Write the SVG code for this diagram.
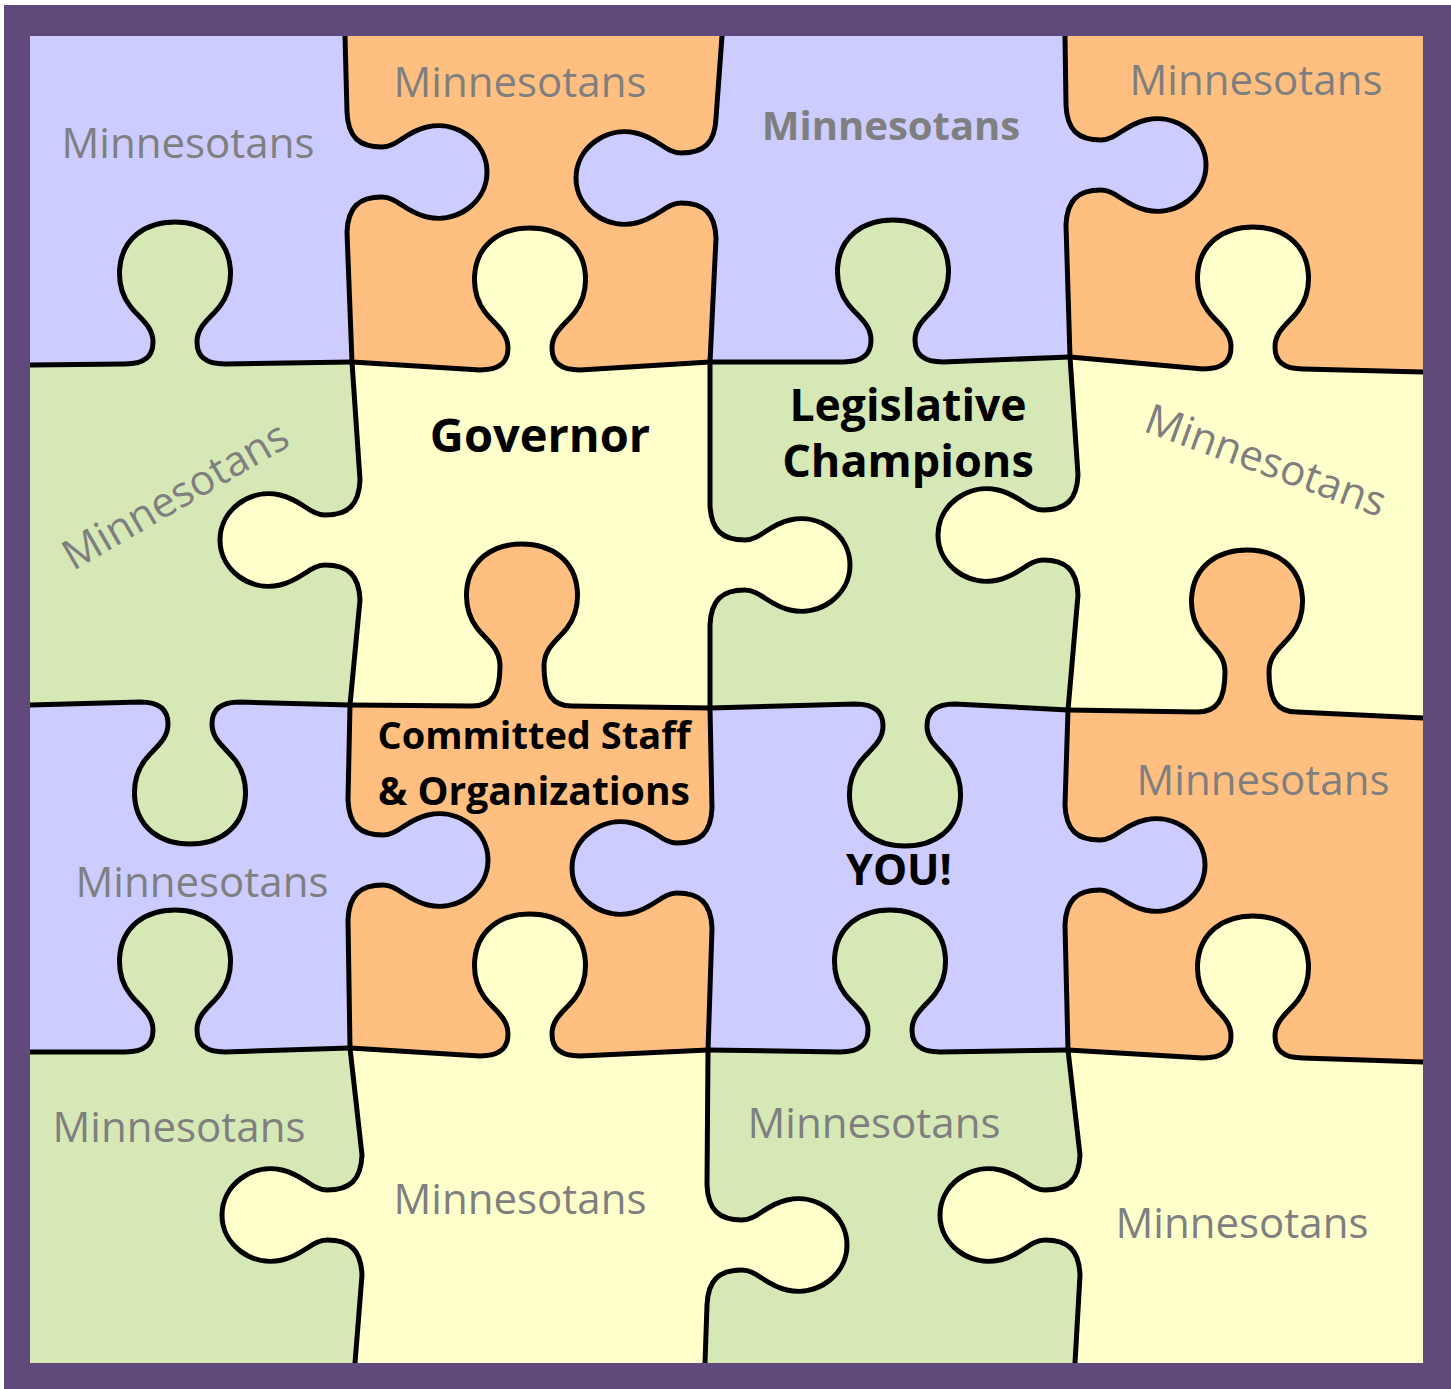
<svg xmlns="http://www.w3.org/2000/svg" width="1451" height="1389" viewBox="0 0 1451 1389">
  <style>
    .piece path { fill-rule: evenodd; }
    .lav { fill: #CCCCFF; }
    .org { fill: #FFBF80; }
    .grn { fill: #D7E8B7; }
    .yel { fill: #FFFFCC; }
    .seam { fill: none; stroke: #000; stroke-width: 5; stroke-linecap: round; stroke-linejoin: round; }
    .m { font-family: "Open Sans", "Liberation Sans", sans-serif; font-size: 42px; fill: #7F7F7F; text-anchor: middle; }
    .mb { font-family: "Open Sans", "Liberation Sans", sans-serif; font-size: 40px; font-weight: bold; fill: #7F7F7F; text-anchor: middle; }
    .b { font-family: "Open Sans", "Liberation Sans", sans-serif; font-weight: bold; fill: #000; text-anchor: middle; }
  </style>
  <rect width="1451" height="1389" fill="#FFFFFF"/>

  <!-- puzzle pieces: cell outline + own tabs, neighbour tabs cut out (evenodd) -->
  <g id="pieces">
    <g id="piece-r0c0" class="piece">
      <path class="lav" d="M30,36 L345,36 L347,112 L347,232 L352,362 L225,364 L125,364 L30,365 Z
        M347,112 C348,137 359,147 382,147 C397,147 405,132 427,127 C457,120 487,142 487,172 C487,202 457,224 427,217 C405,212 397,197 382,197 C359,197 348,207 347,232 Z
        M125,364 C145,364 153,356 153,342 C153,326 140,319 130,306 C115,286 115,252 137,234 C157,218 193,218 213,234 C235,252 235,286 220,306 C210,319 197,326 197,342 C197,356 205,364 225,364 Z"/>
      <text class="m" x="188" y="158">Minnesotans</text>
    </g>
    <g id="piece-r0c1" class="piece">
      <path class="org" d="M345,36 L722,36 L716,118 L716,238 L710,362 L580,370 L480,370 L352,362 L347,232 L347,112 Z
        M347,112 C348,137 359,147 382,147 C397,147 405,132 427,127 C457,120 487,142 487,172 C487,202 457,224 427,217 C405,212 397,197 382,197 C359,197 348,207 347,232 Z
        M716,118 C715,143 704,153 681,153 C666,153 658,138 636,133 C606,126 576,148 576,178 C576,208 606,230 636,223 C658,218 666,203 681,203 C704,203 715,213 716,238 Z
        M480,370 C500,370 508,362 508,348 C508,332 495,325 485,312 C470,292 470,258 492,240 C512,224 548,224 568,240 C590,258 590,292 575,312 C565,325 552,332 552,348 C552,362 560,370 580,370 Z"/>
      <text class="m" x="520" y="97">Minnesotans</text>
    </g>
    <g id="piece-r0c2" class="piece">
      <path class="lav" d="M722,36 L1065,36 L1066,105 L1066,225 L1070,357 L943,362 L843,362 L710,362 L716,238 L716,118 Z
        M716,118 C715,143 704,153 681,153 C666,153 658,138 636,133 C606,126 576,148 576,178 C576,208 606,230 636,223 C658,218 666,203 681,203 C704,203 715,213 716,238 Z
        M1066,105 C1067,130 1078,140 1101,140 C1116,140 1124,125 1146,120 C1176,113 1206,135 1206,165 C1206,195 1176,217 1146,210 C1124,205 1116,190 1101,190 C1078,190 1067,200 1066,225 Z
        M843,362 C863,362 871,354 871,340 C871,324 858,317 848,304 C833,284 833,250 855,232 C875,216 911,216 931,232 C953,250 953,284 938,304 C928,317 915,324 915,340 C915,354 923,362 943,362 Z"/>
      <text class="mb" x="891" y="140">Minnesotans</text>
    </g>
    <g id="piece-r0c3" class="piece">
      <path class="org" d="M1065,36 L1423,36 L1423,372 L1303,369 L1203,369 L1070,357 L1066,225 L1066,105 Z
        M1066,105 C1067,130 1078,140 1101,140 C1116,140 1124,125 1146,120 C1176,113 1206,135 1206,165 C1206,195 1176,217 1146,210 C1124,205 1116,190 1101,190 C1078,190 1067,200 1066,225 Z
        M1203,369 C1223,369 1231,361 1231,347 C1231,331 1218,324 1208,311 C1193,291 1193,257 1215,239 C1235,223 1271,223 1291,239 C1313,257 1313,291 1298,311 C1288,324 1275,331 1275,347 C1275,361 1283,369 1303,369 Z"/>
      <text class="m" x="1256" y="95">Minnesotans</text>
    </g>

    <g id="piece-r1c0" class="piece">
      <path class="grn" d="M30,365 L125,364 L225,364 L352,362 L360,480 L360,600 L350,705 L240,702 L140,702 L30,705 Z
        M125,364 C145,364 153,356 153,342 C153,326 140,319 130,306 C115,286 115,252 137,234 C157,218 193,218 213,234 C235,252 235,286 220,306 C210,319 197,326 197,342 C197,356 205,364 225,364 Z
        M140,702 C160,702 168,710 168,724 C168,740 155,747 145,760 C130,780 130,814 152,832 C172,848 208,848 228,832 C250,814 250,780 235,760 C225,747 212,740 212,724 C212,710 220,702 240,702 Z
        M360,480 C359,505 348,515 325,515 C310,515 302,500 280,495 C250,488 220,510 220,540 C220,570 250,592 280,585 C302,580 310,565 325,565 C348,565 359,575 360,600 Z"/>
      <text class="m" x="175" y="510" transform="rotate(-30 175 495)">Minnesotans</text>
    </g>
    <g id="piece-r1c1" class="piece">
      <path class="yel" d="M352,362 L480,370 L580,370 L710,362 L710,505 L710,625 L710,708 L572,706 L472,706 L350,705 L360,600 L360,480 Z
        M480,370 C500,370 508,362 508,348 C508,332 495,325 485,312 C470,292 470,258 492,240 C512,224 548,224 568,240 C590,258 590,292 575,312 C565,325 552,332 552,348 C552,362 560,370 580,370 Z
        M360,480 C359,505 348,515 325,515 C310,515 302,500 280,495 C250,488 220,510 220,540 C220,570 250,592 280,585 C302,580 310,565 325,565 C348,565 359,575 360,600 Z
        M710,505 C711,530 722,540 745,540 C760,540 768,525 790,520 C820,513 850,535 850,565 C850,595 820,617 790,610 C768,605 760,590 745,590 C722,590 711,600 710,625 Z
        M472,706 C492,706 500,694 500,666 C500,648 487,641 477,628 C462,608 462,574 484,556 C504,540 540,540 560,556 C582,574 582,608 567,628 C557,641 544,648 544,666 C544,694 552,706 572,706 Z"/>
      <text class="b" x="540" y="452" font-size="47">Governor</text>
    </g>
    <g id="piece-r1c2" class="piece">
      <path class="grn" d="M710,362 L843,362 L943,362 L1070,357 L1078,475 L1078,595 L1068,710 L955,704 L855,704 L710,708 L710,625 L710,505 Z
        M843,362 C863,362 871,354 871,340 C871,324 858,317 848,304 C833,284 833,250 855,232 C875,216 911,216 931,232 C953,250 953,284 938,304 C928,317 915,324 915,340 C915,354 923,362 943,362 Z
        M855,704 C875,704 883,712 883,726 C883,742 870,749 860,762 C845,782 845,816 867,834 C887,850 923,850 943,834 C965,816 965,782 950,762 C940,749 927,742 927,726 C927,712 935,704 955,704 Z
        M710,505 C711,530 722,540 745,540 C760,540 768,525 790,520 C820,513 850,535 850,565 C850,595 820,617 790,610 C768,605 760,590 745,590 C722,590 711,600 710,625 Z
        M1078,475 C1077,500 1066,510 1043,510 C1028,510 1020,495 998,490 C968,483 938,505 938,535 C938,565 968,587 998,580 C1020,575 1028,560 1043,560 C1066,560 1077,570 1078,595 Z"/>
      <text class="b" x="908" y="421" font-size="44.5">Legislative</text>
      <text class="b" x="908" y="477" font-size="45">Champions</text>
    </g>
    <g id="piece-r1c3" class="piece">
      <path class="yel" d="M1070,357 L1203,369 L1303,369 L1423,372 L1423,718 L1297,712 L1197,712 L1068,710 L1078,595 L1078,475 Z
        M1203,369 C1223,369 1231,361 1231,347 C1231,331 1218,324 1208,311 C1193,291 1193,257 1215,239 C1235,223 1271,223 1291,239 C1313,257 1313,291 1298,311 C1288,324 1275,331 1275,347 C1275,361 1283,369 1303,369 Z
        M1078,475 C1077,500 1066,510 1043,510 C1028,510 1020,495 998,490 C968,483 938,505 938,535 C938,565 968,587 998,580 C1020,575 1028,560 1043,560 C1066,560 1077,570 1078,595 Z
        M1197,712 C1217,712 1225,700 1225,672 C1225,654 1212,647 1202,634 C1187,614 1187,580 1209,562 C1229,546 1265,546 1285,562 C1307,580 1307,614 1292,634 C1282,647 1269,654 1269,672 C1269,700 1277,712 1297,712 Z"/>
      <text class="m" x="1266" y="475" transform="rotate(20 1266 460)">Minnesotans</text>
    </g>

    <g id="piece-r2c0" class="piece">
      <path class="lav" d="M30,705 L140,702 L240,702 L350,705 L348,800 L348,920 L350,1048 L225,1052 L125,1052 L30,1052 Z
        M348,800 C349,825 360,835 383,835 C398,835 406,820 428,815 C458,808 488,830 488,860 C488,890 458,912 428,905 C406,900 398,885 383,885 C360,885 349,895 348,920 Z
        M140,702 C160,702 168,710 168,724 C168,740 155,747 145,760 C130,780 130,814 152,832 C172,848 208,848 228,832 C250,814 250,780 235,760 C225,747 212,740 212,724 C212,710 220,702 240,702 Z
        M125,1052 C145,1052 153,1044 153,1030 C153,1014 140,1007 130,994 C115,974 115,940 137,922 C157,906 193,906 213,922 C235,940 235,974 220,994 C210,1007 197,1014 197,1030 C197,1044 205,1052 225,1052 Z"/>
      <text class="m" x="202" y="897">Minnesotans</text>
    </g>
    <g id="piece-r2c1" class="piece">
      <path class="org" d="M350,705 L472,706 L572,706 L710,708 L712,808 L712,928 L708,1050 L580,1056 L480,1056 L350,1048 L348,920 L348,800 Z
        M472,706 C492,706 500,694 500,666 C500,648 487,641 477,628 C462,608 462,574 484,556 C504,540 540,540 560,556 C582,574 582,608 567,628 C557,641 544,648 544,666 C544,694 552,706 572,706 Z
        M348,800 C349,825 360,835 383,835 C398,835 406,820 428,815 C458,808 488,830 488,860 C488,890 458,912 428,905 C406,900 398,885 383,885 C360,885 349,895 348,920 Z
        M712,808 C711,833 700,843 677,843 C662,843 654,828 632,823 C602,816 572,838 572,868 C572,898 602,920 632,913 C654,908 662,893 677,893 C700,893 711,903 712,928 Z
        M480,1056 C500,1056 508,1048 508,1034 C508,1018 495,1011 485,998 C470,978 470,944 492,926 C512,910 548,910 568,926 C590,944 590,978 575,998 C565,1011 552,1018 552,1034 C552,1048 560,1056 580,1056 Z"/>
      <text class="b" x="534" y="749" font-size="38">Committed Staff</text>
      <text class="b" x="534" y="805" font-size="39">&amp; Organizations</text>
    </g>
    <g id="piece-r2c2" class="piece">
      <path class="lav" d="M710,708 L855,704 L955,704 L1068,710 L1065,805 L1065,925 L1068,1050 L940,1052 L840,1052 L708,1050 L712,928 L712,808 Z
        M712,808 C711,833 700,843 677,843 C662,843 654,828 632,823 C602,816 572,838 572,868 C572,898 602,920 632,913 C654,908 662,893 677,893 C700,893 711,903 712,928 Z
        M1065,805 C1066,830 1077,840 1100,840 C1115,840 1123,825 1145,820 C1175,813 1205,835 1205,865 C1205,895 1175,917 1145,910 C1123,905 1115,890 1100,890 C1077,890 1066,900 1065,925 Z
        M855,704 C875,704 883,712 883,726 C883,742 870,749 860,762 C845,782 845,816 867,834 C887,850 923,850 943,834 C965,816 965,782 950,762 C940,749 927,742 927,726 C927,712 935,704 955,704 Z
        M840,1052 C860,1052 868,1044 868,1030 C868,1014 855,1007 845,994 C830,974 830,940 852,922 C872,906 908,906 928,922 C950,940 950,974 935,994 C925,1007 912,1014 912,1030 C912,1044 920,1052 940,1052 Z"/>
      <text class="b" x="899" y="885" font-size="43">YOU!</text>
    </g>
    <g id="piece-r2c3" class="piece">
      <path class="org" d="M1068,710 L1197,712 L1297,712 L1423,718 L1423,1062 L1303,1058 L1203,1058 L1068,1050 L1065,925 L1065,805 Z
        M1197,712 C1217,712 1225,700 1225,672 C1225,654 1212,647 1202,634 C1187,614 1187,580 1209,562 C1229,546 1265,546 1285,562 C1307,580 1307,614 1292,634 C1282,647 1269,654 1269,672 C1269,700 1277,712 1297,712 Z
        M1065,805 C1066,830 1077,840 1100,840 C1115,840 1123,825 1145,820 C1175,813 1205,835 1205,865 C1205,895 1175,917 1145,910 C1123,905 1115,890 1100,890 C1077,890 1066,900 1065,925 Z
        M1203,1058 C1223,1058 1231,1050 1231,1036 C1231,1020 1218,1013 1208,1000 C1193,980 1193,946 1215,928 C1235,912 1271,912 1291,928 C1313,946 1313,980 1298,1000 C1288,1013 1275,1020 1275,1036 C1275,1050 1283,1058 1303,1058 Z"/>
      <text class="m" x="1263" y="795">Minnesotans</text>
    </g>

    <g id="piece-r3c0" class="piece">
      <path class="grn" d="M30,1052 L125,1052 L225,1052 L350,1048 L362,1155 L362,1275 L355,1363 L30,1363 Z
        M125,1052 C145,1052 153,1044 153,1030 C153,1014 140,1007 130,994 C115,974 115,940 137,922 C157,906 193,906 213,922 C235,940 235,974 220,994 C210,1007 197,1014 197,1030 C197,1044 205,1052 225,1052 Z
        M362,1155 C361,1180 350,1190 327,1190 C312,1190 304,1175 282,1170 C252,1163 222,1185 222,1215 C222,1245 252,1267 282,1260 C304,1255 312,1240 327,1240 C350,1240 361,1250 362,1275 Z"/>
      <text class="m" x="179" y="1142">Minnesotans</text>
    </g>
    <g id="piece-r3c1" class="piece">
      <path class="yel" d="M350,1048 L480,1056 L580,1056 L708,1050 L707,1185 L707,1305 L705,1363 L355,1363 L362,1275 L362,1155 Z
        M480,1056 C500,1056 508,1048 508,1034 C508,1018 495,1011 485,998 C470,978 470,944 492,926 C512,910 548,910 568,926 C590,944 590,978 575,998 C565,1011 552,1018 552,1034 C552,1048 560,1056 580,1056 Z
        M362,1155 C361,1180 350,1190 327,1190 C312,1190 304,1175 282,1170 C252,1163 222,1185 222,1215 C222,1245 252,1267 282,1260 C304,1255 312,1240 327,1240 C350,1240 361,1250 362,1275 Z
        M707,1185 C708,1210 719,1220 742,1220 C757,1220 765,1205 787,1200 C817,1193 847,1215 847,1245 C847,1275 817,1297 787,1290 C765,1285 757,1270 742,1270 C719,1270 708,1280 707,1305 Z"/>
      <text class="m" x="520" y="1214">Minnesotans</text>
    </g>
    <g id="piece-r3c2" class="piece">
      <path class="grn" d="M708,1050 L840,1052 L940,1052 L1068,1050 L1080,1155 L1080,1275 L1075,1363 L705,1363 L707,1305 L707,1185 Z
        M840,1052 C860,1052 868,1044 868,1030 C868,1014 855,1007 845,994 C830,974 830,940 852,922 C872,906 908,906 928,922 C950,940 950,974 935,994 C925,1007 912,1014 912,1030 C912,1044 920,1052 940,1052 Z
        M707,1185 C708,1210 719,1220 742,1220 C757,1220 765,1205 787,1200 C817,1193 847,1215 847,1245 C847,1275 817,1297 787,1290 C765,1285 757,1270 742,1270 C719,1270 708,1280 707,1305 Z
        M1080,1155 C1079,1180 1068,1190 1045,1190 C1030,1190 1022,1175 1000,1170 C970,1163 940,1185 940,1215 C940,1245 970,1267 1000,1260 C1022,1255 1030,1240 1045,1240 C1068,1240 1079,1250 1080,1275 Z"/>
      <text class="m" x="874" y="1138">Minnesotans</text>
    </g>
    <g id="piece-r3c3" class="piece">
      <path class="yel" d="M1068,1050 L1203,1058 L1303,1058 L1423,1062 L1423,1363 L1075,1363 L1080,1275 L1080,1155 Z
        M1203,1058 C1223,1058 1231,1050 1231,1036 C1231,1020 1218,1013 1208,1000 C1193,980 1193,946 1215,928 C1235,912 1271,912 1291,928 C1313,946 1313,980 1298,1000 C1288,1013 1275,1020 1275,1036 C1275,1050 1283,1058 1303,1058 Z
        M1080,1155 C1079,1180 1068,1190 1045,1190 C1030,1190 1022,1175 1000,1170 C970,1163 940,1185 940,1215 C940,1245 970,1267 1000,1260 C1022,1255 1030,1240 1045,1240 C1068,1240 1079,1250 1080,1275 Z"/>
      <text class="m" x="1242" y="1238">Minnesotans</text>
    </g>
  </g>

  <!-- cut lines between pieces -->
  <g id="seams" class="seam">
    <path d="M30,365 L125,364 C145,364 153,356 153,342 C153,326 140,319 130,306 C115,286 115,252 137,234 C157,218 193,218 213,234 C235,252 235,286 220,306 C210,319 197,326 197,342 C197,356 205,364 225,364 L352,362"/>
    <path d="M352,362 L480,370 C500,370 508,362 508,348 C508,332 495,325 485,312 C470,292 470,258 492,240 C512,224 548,224 568,240 C590,258 590,292 575,312 C565,325 552,332 552,348 C552,362 560,370 580,370 L710,362"/>
    <path d="M710,362 L843,362 C863,362 871,354 871,340 C871,324 858,317 848,304 C833,284 833,250 855,232 C875,216 911,216 931,232 C953,250 953,284 938,304 C928,317 915,324 915,340 C915,354 923,362 943,362 L1070,357"/>
    <path d="M1070,357 L1203,369 C1223,369 1231,361 1231,347 C1231,331 1218,324 1208,311 C1193,291 1193,257 1215,239 C1235,223 1271,223 1291,239 C1313,257 1313,291 1298,311 C1288,324 1275,331 1275,347 C1275,361 1283,369 1303,369 L1423,372"/>
    <path d="M30,705 L140,702 C160,702 168,710 168,724 C168,740 155,747 145,760 C130,780 130,814 152,832 C172,848 208,848 228,832 C250,814 250,780 235,760 C225,747 212,740 212,724 C212,710 220,702 240,702 L350,705"/>
    <path d="M350,705 L472,706 C492,706 500,694 500,666 C500,648 487,641 477,628 C462,608 462,574 484,556 C504,540 540,540 560,556 C582,574 582,608 567,628 C557,641 544,648 544,666 C544,694 552,706 572,706 L710,708"/>
    <path d="M710,708 L855,704 C875,704 883,712 883,726 C883,742 870,749 860,762 C845,782 845,816 867,834 C887,850 923,850 943,834 C965,816 965,782 950,762 C940,749 927,742 927,726 C927,712 935,704 955,704 L1068,710"/>
    <path d="M1068,710 L1197,712 C1217,712 1225,700 1225,672 C1225,654 1212,647 1202,634 C1187,614 1187,580 1209,562 C1229,546 1265,546 1285,562 C1307,580 1307,614 1292,634 C1282,647 1269,654 1269,672 C1269,700 1277,712 1297,712 L1423,718"/>
    <path d="M30,1052 L125,1052 C145,1052 153,1044 153,1030 C153,1014 140,1007 130,994 C115,974 115,940 137,922 C157,906 193,906 213,922 C235,940 235,974 220,994 C210,1007 197,1014 197,1030 C197,1044 205,1052 225,1052 L350,1048"/>
    <path d="M350,1048 L480,1056 C500,1056 508,1048 508,1034 C508,1018 495,1011 485,998 C470,978 470,944 492,926 C512,910 548,910 568,926 C590,944 590,978 575,998 C565,1011 552,1018 552,1034 C552,1048 560,1056 580,1056 L708,1050"/>
    <path d="M708,1050 L840,1052 C860,1052 868,1044 868,1030 C868,1014 855,1007 845,994 C830,974 830,940 852,922 C872,906 908,906 928,922 C950,940 950,974 935,994 C925,1007 912,1014 912,1030 C912,1044 920,1052 940,1052 L1068,1050"/>
    <path d="M1068,1050 L1203,1058 C1223,1058 1231,1050 1231,1036 C1231,1020 1218,1013 1208,1000 C1193,980 1193,946 1215,928 C1235,912 1271,912 1291,928 C1313,946 1313,980 1298,1000 C1288,1013 1275,1020 1275,1036 C1275,1050 1283,1058 1303,1058 L1423,1062"/>
    <path d="M345,36 L347,112 C348,137 359,147 382,147 C397,147 405,132 427,127 C457,120 487,142 487,172 C487,202 457,224 427,217 C405,212 397,197 382,197 C359,197 348,207 347,232 L352,362"/>
    <path d="M722,36 L716,118 C715,143 704,153 681,153 C666,153 658,138 636,133 C606,126 576,148 576,178 C576,208 606,230 636,223 C658,218 666,203 681,203 C704,203 715,213 716,238 L710,362"/>
    <path d="M1065,36 L1066,105 C1067,130 1078,140 1101,140 C1116,140 1124,125 1146,120 C1176,113 1206,135 1206,165 C1206,195 1176,217 1146,210 C1124,205 1116,190 1101,190 C1078,190 1067,200 1066,225 L1070,357"/>
    <path d="M352,362 L360,480 C359,505 348,515 325,515 C310,515 302,500 280,495 C250,488 220,510 220,540 C220,570 250,592 280,585 C302,580 310,565 325,565 C348,565 359,575 360,600 L350,705"/>
    <path d="M710,362 L710,505 C711,530 722,540 745,540 C760,540 768,525 790,520 C820,513 850,535 850,565 C850,595 820,617 790,610 C768,605 760,590 745,590 C722,590 711,600 710,625 L710,708"/>
    <path d="M1070,357 L1078,475 C1077,500 1066,510 1043,510 C1028,510 1020,495 998,490 C968,483 938,505 938,535 C938,565 968,587 998,580 C1020,575 1028,560 1043,560 C1066,560 1077,570 1078,595 L1068,710"/>
    <path d="M350,705 L348,800 C349,825 360,835 383,835 C398,835 406,820 428,815 C458,808 488,830 488,860 C488,890 458,912 428,905 C406,900 398,885 383,885 C360,885 349,895 348,920 L350,1048"/>
    <path d="M710,708 L712,808 C711,833 700,843 677,843 C662,843 654,828 632,823 C602,816 572,838 572,868 C572,898 602,920 632,913 C654,908 662,893 677,893 C700,893 711,903 712,928 L708,1050"/>
    <path d="M1068,710 L1065,805 C1066,830 1077,840 1100,840 C1115,840 1123,825 1145,820 C1175,813 1205,835 1205,865 C1205,895 1175,917 1145,910 C1123,905 1115,890 1100,890 C1077,890 1066,900 1065,925 L1068,1050"/>
    <path d="M350,1048 L362,1155 C361,1180 350,1190 327,1190 C312,1190 304,1175 282,1170 C252,1163 222,1185 222,1215 C222,1245 252,1267 282,1260 C304,1255 312,1240 327,1240 C350,1240 361,1250 362,1275 L355,1363"/>
    <path d="M708,1050 L707,1185 C708,1210 719,1220 742,1220 C757,1220 765,1205 787,1200 C817,1193 847,1215 847,1245 C847,1275 817,1297 787,1290 C765,1285 757,1270 742,1270 C719,1270 708,1280 707,1305 L705,1363"/>
    <path d="M1068,1050 L1080,1155 C1079,1180 1068,1190 1045,1190 C1030,1190 1022,1175 1000,1170 C970,1163 940,1185 940,1215 C940,1245 970,1267 1000,1260 C1022,1255 1030,1240 1045,1240 C1068,1240 1079,1250 1080,1275 L1075,1363"/>
  </g>

  <!-- purple frame -->
  <path id="frame" fill="#604A7B" fill-rule="evenodd" d="M4,5 H1451 V1389 H4 Z M30,36 V1363 H1423 V36 Z"/>
</svg>
